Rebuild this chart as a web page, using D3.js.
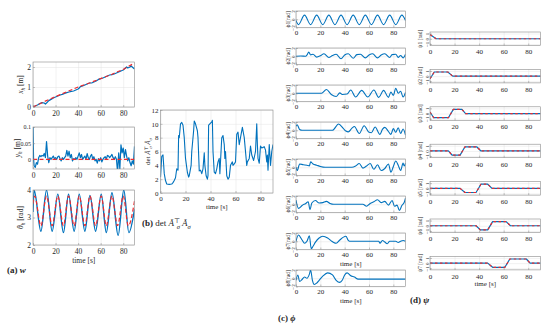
<!DOCTYPE html>
<html>
<head>
<meta charset="utf-8">
<script src="https://cdn.jsdelivr.net/npm/d3@7"></script>
<style>
body { margin: 0; background: #fff; }
text { font-family: "Liberation Serif", "DejaVu Serif", serif; fill: #262626; }
</style>
</head>
<body>
<svg id="fig" width="550" height="331"></svg>
<script>
// ---- data ([time s, value]) ----
var timeTicks = [0, 20, 40, 60, 80];
var xhTicks = [0, 1, 2];
var yhTicks = [0, 0.05, 0.1];
var thTicks = [2, 3, 4];
var detTicks = [0, 2, 4, 6, 8, 10, 12];
var phiTicks = [-2, 0, 2];
var psiTicks = [-1, 0, 1];

var xhRef = [[0,0],[10,0.27],[20,0.52],[30,0.76],[40,1.0],[50,1.2],[60,1.42],[70,1.64],[80,1.88],[90,2.2]];
var xhMeas = [[0,0.02],[2,0.05],[4,0.1],[6,0.17],[8,0.22],[10,0.2],[11,0.15],[12,0.2],[14,0.32],[16,0.38],[18,0.45],[20,0.5],
  [22,0.55],[24,0.6],[26,0.63],[28,0.68],[30,0.72],[32,0.75],[34,0.78],[36,0.8],[38,0.85],[40,0.9],[41,0.95],[42,1.02],
  [44,1.05],[46,1.1],[48,1.15],[50,1.2],[52,1.2],[54,1.25],[56,1.3],[58,1.38],[60,1.42],[62,1.45],[64,1.5],[66,1.55],
  [68,1.6],[70,1.62],[72,1.65],[74,1.7],[76,1.75],[78,1.8],[80,1.85],[82,1.95],[83,2.0],[84,1.95],[86,2.0],[87,2.05],
  [88,2.0],[89,1.95],[90,1.9]];

var yhRef = [[0,0],[90,0]];
var yhMeas = [[0,0.1],[0.5,0.0],[1,-0.02],[2,-0.025],[3,-0.01],[4,-0.015],[5,0.005],[6,0.012],[7,0.008],[8,0.012],[9,0.01],
  [10,0.018],[11,0.005],[12,0.055],[13,0.01],[14,-0.01],[15,0.005],[16,0.0],[17,0.005],[18,0.01],[19,0.002],[20,0.005],
  [21,0.0],[22,0.008],[23,0.01],[24,0.002],[25,-0.005],[26,0.005],[27,0.0],[28,0.005],[29,0.01],[30,0.028],[31,0.01],
  [32,0.025],[33,0.005],[34,0.015],[35,-0.005],[36,0.002],[37,0.0],[38,0.005],[39,0.0],[40,0.01],[41,0.02],[42,0.005],
  [43,0.015],[44,0.0],[45,0.005],[46,0.01],[47,0.0],[48,0.018],[49,0.005],[50,0.0],[51,0.01],[52,0.015],[53,0.0],
  [54,0.008],[55,-0.005],[56,0.0],[57,-0.012],[58,0.002],[59,-0.005],[60,0.005],[61,-0.008],[62,0.0],[63,0.005],
  [64,0.008],[65,0.0],[66,0.012],[67,0.01],[68,0.005],[69,0.01],[70,0.015],[71,0.005],[72,0.0],[73,0.008],[74,0.0],
  [75,-0.04],[76,0.02],[77,-0.03],[78,0.045],[79,0.02],[80,0.035],[81,0.005],[82,0.03],[83,0.01],[84,-0.005],[85,0.005],
  [86,-0.01],[87,-0.02],[88,-0.005],[89,-0.015],[90,0.04]];

var thRef = [[0,3.5],[1.5,3.78],[7,2.7],[12,3.78],[17,2.7],[22,3.78],[27,2.7],[31.5,3.78],[36.5,2.7],[41,3.78],[46,2.7],
  [50.5,3.78],[55.5,2.7],[60.5,3.78],[65,2.7],[70,3.78],[75,2.7],[80,3.78],[84.5,2.7],[90,3.6]];
var thMeas = [[0,3.2],[1,4.0],[7,2.5],[12,4.0],[17,2.5],[22,3.85],[27,2.45],[31.5,3.85],[36.5,2.5],[41,3.85],[46,2.5],
  [50.5,3.8],[55.5,2.5],[60.5,3.85],[65,2.45],[70,3.9],[75.5,2.35],[80.5,4.0],[85,2.45],[90,3.3]];

var detA = [[0,2.3],[1,5.3],[2,5.5],[3,2.8],[4,1.8],[5,1.3],[7,1.25],[9,1.3],[10,1.5],[11,1.8],[12,2.2],[13,3.5],[14,3.3],
  [14.5,8.3],[15,8.0],[16,10.0],[17,10.2],[18,9.8],[19,8.0],[20,5.0],[21.5,3.0],[22.5,2.3],[23,2.5],[24.5,4.0],[25,6.0],
  [26.5,9.0],[27,10.4],[28,10.0],[29.5,9.0],[30,8.0],[31,3.2],[32,3.3],[33,2.8],[34,3.5],[35,5.8],[35.5,4.0],[36.5,2.5],
  [37.5,2.0],[38,2.5],[38.5,9.8],[39.5,10.0],[41,10.3],[41.5,10.5],[42,6.0],[43,3.0],[44,2.8],[45,3.5],[46,4.5],[47,5.0],
  [47.5,2.8],[49,8.0],[50,8.3],[51,7.0],[51.5,5.0],[52,6.0],[53,2.5],[54,2.0],[55,2.3],[56,4.0],[57.5,4.5],[58,4.0],
  [59,4.2],[60,4.5],[61,8.5],[62,8.8],[63,7.0],[64,8.0],[65.5,9.5],[67,8.0],[68,6.0],[69,4.0],[69.5,4.5],[71,5.0],
  [72,6.8],[73,5.5],[74.5,4.7],[76,6.0],[77,10.0],[77.5,7.0],[78,5.0],[79,4.3],[80,6.8],[81,6.5],[83,6.7],[84,6.2],
  [85,4.5],[85.5,5.5],[86,3.3],[87,7.0],[88,4.0],[89,6.0],[90,7.0]];

var phi1 = [[0,-0.3],[2,-1.3],[7,1.0],[12,-1.3],[17,1.0],[22,-1.3],[27,1.0],[32,-1.3],[37,1.0],[42,-1.3],[47,1.0],
  [52,-1.3],[57,1.0],[62,-1.3],[67,1.0],[72,-1.3],[77,1.0],[82,-1.3],[87,1.0],[90,-0.3]];
var phi2 = [[0,0],[4,0.05],[8,0.0],[9,0.3],[10.5,1.0],[12,0.3],[14,0.5],[17,-0.2],[20,0.1],[23,0.6],[27,-0.3],[30,0.2],
  [33,0.5],[37,-0.6],[40,0.3],[43,0.6],[47,-0.5],[50,0.4],[53,0.5],[57,-0.4],[60,0.3],[63,0.6],[67,-0.4],[70,0.3],
  [73,0.6],[77,-0.3],[79,0.4],[82,0.5],[84,-0.3],[86,0.2],[88,-0.4],[90,0.5]];
var phi3 = [[0,0],[21,0],[25,0.9],[29,-0.3],[33,-0.8],[36,0.1],[38,-0.3],[42,-0.2],[45,0.8],[49,-0.9],[54,0.7],[59,-0.9],
  [64,0.8],[68,-1.0],[72,0.7],[76,-1.0],[78,0.3],[80,-0.5],[82,1.2],[84,0.0],[86,0.5],[88,-0.9],[90,0.2]];
var phi4 = [[0,1.0],[1,1.3],[3,0.2],[5,0],[30,0],[35,1.5],[39,0.4],[41,-0.2],[43,-0.4],[46,0.5],[48,0.9],[52,-0.8],
  [56,1.1],[60,-0.5],[62,-0.6],[65,0.8],[69,-1.0],[71,0.2],[73,0.7],[76,-0.3],[78,-1.0],[80,0.4],[82,-0.5],[84,0.6],
  [86,-0.8],[88,0.3],[90,-1.2]];
var phi5 = [[0,0],[1,-0.8],[3,0.8],[6,0.6],[9,0.5],[11,0.3],[12,1.3],[14,0.8],[17,0.5],[20,0.2],[24,0],[46,0],[49,0.3],
  [52,0.9],[55,-0.2],[58,0.3],[61,0.9],[64,-0.5],[67,0.6],[70,-0.8],[73,-0.3],[76,0.8],[78,-1.2],[80,0.2],[82,1.5],
  [84,0.5],[86,-0.8],[88,1.0],[89,0.3],[90,1.0]];
var phi6 = [[0,1.0],[2,-1.0],[5,-0.3],[8,0.2],[10,0.6],[11.5,-1.3],[13,0.3],[16,0.9],[19,0.3],[22,0.4],[25,0.7],[28,0.2],
  [31,0],[55,0],[58,-0.5],[61,0.2],[64,0.6],[67,1.1],[70,0.4],[73,0.7],[76,-0.2],[79,0.9],[81,-0.5],[83,-0.2],
  [85,-1.5],[87,-0.3],[89,0.5],[90,1.5]];
var phi7 = [[0,0],[2,1.5],[5,0.3],[7,-0.5],[9,0],[11,1.3],[12.5,-1.8],[14,-1.2],[16,-0.2],[19,0.8],[22,1.2],[26,0.8],
  [29,0.1],[31,-0.3],[33,-0.5],[36,0.3],[39,1.0],[41,1.2],[43,0.2],[44,0],[68,0],[69,-0.5],[71,0.2],[73,-0.2],
  [75,-0.6],[77,0],[82,0],[84,-0.3],[86,0],[88,0.2],[90,0]];
var phi8 = [[0,-0.5],[1.5,0.8],[3,-0.8],[5,-0.3],[7,0.3],[9,0],[11,1.0],[12,2.0],[13.5,-0.5],[15,-1.5],[17,-1.2],
  [19,-0.5],[22,0.5],[26,1.3],[30,0.8],[33,-0.5],[36,-1.0],[38,-0.5],[40,0.8],[42,1.3],[45,0.6],[48,0.3],[51,-0.2],[90,-0.2]];

var psi1 = [[0,0.8],[5,0],[90,0]];
var psi2 = [[0,-0.5],[3.5,0.8],[14.5,0.8],[18.5,0],[90,0]];
var psi3 = [[0,0.3],[3,-0.8],[15,-0.8],[19,0.8],[26,0.8],[29,0],[90,0]];
var psi4 = [[0,0],[15,0],[18,-0.8],[24.5,-0.8],[28.5,0.8],[38,0.8],[41.5,0],[90,0]];
var psi5 = [[0,0],[24.5,0],[28.5,-0.8],[37.5,-0.8],[41.5,0.8],[47,0.8],[50.5,0],[90,0]];
var psi6 = [[0,0],[37.5,0],[41,-0.8],[47,-0.8],[51,0.8],[62,0.8],[65.5,0],[90,0]];
var psi7 = [[0,0],[47,0],[51,-0.8],[61,-0.8],[65,0.8],[78.5,0.8],[81.5,0],[90,0]];

var phiSeries = [phi1, phi2, phi3, phi4, phi5, phi6, phi7, phi8];
var psiSeries = [psi1, psi2, psi3, psi4, psi5, psi6, psi7];

// ---- drawing ----
var svg = d3.select("#fig");
var blue = "#0072bd", red = "#ee2a2e", gridCol = "#e3e3e3", boxCol = "#8a8a8a";
var numFmt = d3.format("~g");
var clipCount = 0;

function drawAxes(o) {
    var x = d3.scaleLinear().domain([0, 90]).range([o.left, o.right]);
    var y = d3.scaleLinear().domain(o.yDomain).range([o.bottom, o.top]);
    var g = svg.append("g");

    // grid
    g.append("g")
        .attr("transform", "translate(0," + o.bottom + ")")
        .call(d3.axisBottom(x).tickValues(timeTicks).tickSize(-(o.bottom - o.top)).tickFormat(""))
        .call(s => s.select(".domain").remove())
        .selectAll("line").attr("stroke", gridCol).attr("stroke-width", 0.5);
    g.append("g")
        .attr("transform", "translate(" + o.left + ",0)")
        .call(d3.axisLeft(y).tickValues(o.yTicks).tickSize(-(o.right - o.left)).tickFormat(""))
        .call(s => s.select(".domain").remove())
        .selectAll("line").attr("stroke", gridCol).attr("stroke-width", 0.5);

    clipCount++;
    svg.append("clipPath").attr("id", "clip" + clipCount)
        .append("rect")
        .attr("x", o.left).attr("y", o.top)
        .attr("width", o.right - o.left).attr("height", o.bottom - o.top);

    o.series.forEach(function(s) {
        var line = d3.line()
            .x(d => x(d[0]))
            .y(d => y(d[1]))
            .curve(s.curve || d3.curveLinear);
        g.append("path")
            .datum(s.data)
            .attr("clip-path", "url(#clip" + clipCount + ")")
            .attr("d", line)
            .attr("fill", "none")
            .attr("stroke", s.color)
            .attr("stroke-width", s.width || 1.1)
            .attr("stroke-dasharray", s.dash || null)
            .attr("stroke-linejoin", "round");
    });

    g.append("rect")
        .attr("x", o.left).attr("y", o.top)
        .attr("width", o.right - o.left).attr("height", o.bottom - o.top)
        .attr("fill", "none").attr("stroke", boxCol).attr("stroke-width", 0.6);

    var xa = g.append("g")
        .attr("transform", "translate(0," + o.bottom + ")")
        .call(d3.axisBottom(x).tickValues(timeTicks).tickSize(-2).tickPadding(o.xPad).tickFormat(numFmt));
    xa.select(".domain").remove();
    xa.selectAll("line").attr("stroke", boxCol).attr("stroke-width", 0.5);
    xa.selectAll("text").style("font-size", o.xFont + "px");

    var ya = g.append("g")
        .attr("transform", "translate(" + o.left + ",0)")
        .call(d3.axisLeft(y).tickValues(o.yTicks).tickSize(-2).tickPadding(2).tickFormat(numFmt));
    ya.select(".domain").remove();
    ya.selectAll("line").attr("stroke", boxCol).attr("stroke-width", 0.5);
    ya.selectAll("text").style("font-size", o.yFont + "px");
    if (o.rotateY) {
        ya.selectAll("text")
            .attr("x", 0).attr("dy", 0)
            .attr("text-anchor", "middle")
            .attr("transform", "translate(-1.5,0) rotate(-90)");
    }

    if (o.timeLabel) {
        g.append("text")
            .attr("x", (o.left + o.right) / 2)
            .attr("y", o.bottom + o.timeLabel)
            .attr("text-anchor", "middle")
            .style("font-size", o.xFont + "px")
            .text("time [s]");
    }
    return g;
}

function yLabel(xPos, yMid, size, parts) {
    var t = svg.append("text")
        .attr("transform", "translate(" + xPos + "," + yMid + ") rotate(-90)")
        .attr("text-anchor", "middle")
        .style("font-size", size + "px");
    parts.forEach(function(p) {
        var sp = t.append("tspan").text(p.t);
        if (p.i) sp.style("font-style", "italic");
        if (p.s) sp.style("font-size", (size * 0.7) + "px");
        if (p.dy) sp.attr("dy", p.dy);
        if (p.dx) sp.attr("dx", p.dx);
    });
}

// (a) w
var aLeft = 33, aRight = 134.5;
drawAxes({left: aLeft, right: aRight, top: 62, bottom: 107, yDomain: [0, 2.25], yTicks: xhTicks,
    xFont: 7.5, yFont: 7.5, xPad: 4,
    series: [{data: xhMeas, color: blue, width: 1.2}, {data: xhRef, color: red, width: 1.2, dash: "4,2.5"}]});
drawAxes({left: aLeft, right: aRight, top: 127, bottom: 169, yDomain: [-0.03, 0.1], yTicks: yhTicks,
    xFont: 7.5, yFont: 6, xPad: 4,
    series: [{data: yhMeas, color: blue, width: 1.2}, {data: yhRef, color: red, width: 1.2, dash: "4,2.5"}]});
drawAxes({left: aLeft, right: aRight, top: 190, bottom: 245, yDomain: [2, 4], yTicks: thTicks,
    xFont: 7.5, yFont: 7.5, xPad: 4, timeLabel: 18,
    series: [{data: thMeas, color: blue, width: 1.4, curve: d3.curveMonotoneX},
             {data: thRef, color: red, width: 1.2, dash: "4,2.5", curve: d3.curveMonotoneX}]});
yLabel(23, 84.5, 7.5, [{t: "x", i: 1}, {t: "h", i: 1, s: 1, dy: 2}, {t: " [m]", dy: -2}]);
yLabel(19.5, 148, 7.5, [{t: "y", i: 1}, {t: "h", i: 1, s: 1, dy: 2}, {t: " [m]", dy: -2}]);
yLabel(23, 217.5, 7.5, [{t: "θ", i: 1}, {t: "h", i: 1, s: 1, dy: 2}, {t: " [rad]", dy: -2}]);

// (b) det
drawAxes({left: 160.5, right: 273, top: 110, bottom: 193, yDomain: [0, 12], yTicks: detTicks,
    xFont: 7, yFont: 7, xPad: 3.5, timeLabel: 16,
    series: [{data: detA, color: blue, width: 1.1}]});
yLabel(150, 151.5, 7, [{t: "det "}, {t: "Ă", i: 1}, {t: "⊤", s: 1, dy: -2.5}, {t: "σ", i: 1, s: 1, dx: -3, dy: 4.5},
    {t: " Ă", i: 1, dy: -2}, {t: "σ", i: 1, s: 1, dy: 2}]);

// (c) phi
phiSeries.forEach(function(d, i) {
    var top = 11 + 37 * i;
    drawAxes({left: 296, right: 405.5, top: top, bottom: top + 16.5, yDomain: [-2, 2], yTicks: phiTicks,
        xFont: 7, yFont: 5, xPad: 3, rotateY: true, timeLabel: i >= 6 ? 16.5 : 0,
        series: [{data: d, color: blue, width: 1.1, curve: d3.curveMonotoneX}]});
    yLabel(290, top + 8.25, 5.5, [{t: "ϕ" + (i + 1) + "[rad]"}]);
});

// (d) psi
psiSeries.forEach(function(d, i) {
    var top = 32 + 37.4 * i;
    drawAxes({left: 430, right: 540.5, top: top, bottom: top + 13.5, yDomain: [-1.3, 1.3], yTicks: psiTicks,
        xFont: 7, yFont: 5, xPad: 4, rotateY: true, timeLabel: i == 6 ? 16.5 : 0,
        series: [{data: d, color: blue, width: 1.2}, {data: d, color: red, width: 1.2, dash: "2.5,2.5"}]});
    yLabel(422, top + 6.75, 5.5, [{t: "ψ" + (i + 1) + " [rad]"}]);
});

// captions
function caption(xPos, yPos, letter, parts) {
    var t = svg.append("text").attr("x", xPos).attr("y", yPos).style("font-size", "9px");
    t.append("tspan").style("font-weight", "bold").text("(" + letter + ") ");
    parts.forEach(function(p) {
        var sp = t.append("tspan").text(p.t);
        if (p.i) sp.style("font-style", "italic");
        if (p.b) sp.style("font-weight", "bold");
        if (p.s) sp.style("font-size", "6.5px");
        if (p.dy) sp.attr("dy", p.dy);
        if (p.dx) sp.attr("dx", p.dx);
    });
}
caption(7, 273, "a", [{t: "w", i: 1, b: 1}]);
caption(142, 226, "b", [{t: "det "}, {t: "Ă", i: 1}, {t: "⊤", s: 1, dy: -3.5}, {t: "σ", i: 1, s: 1, dx: -3.5, dy: 6},
    {t: " Ă", i: 1, dy: -2.5}, {t: "σ", i: 1, s: 1, dy: 2.5}]);
caption(278, 321, "c", [{t: "ϕ", i: 1, b: 1}]);
caption(410, 303, "d", [{t: "ψ", i: 1, b: 1}]);
</script>
</body>
</html>
